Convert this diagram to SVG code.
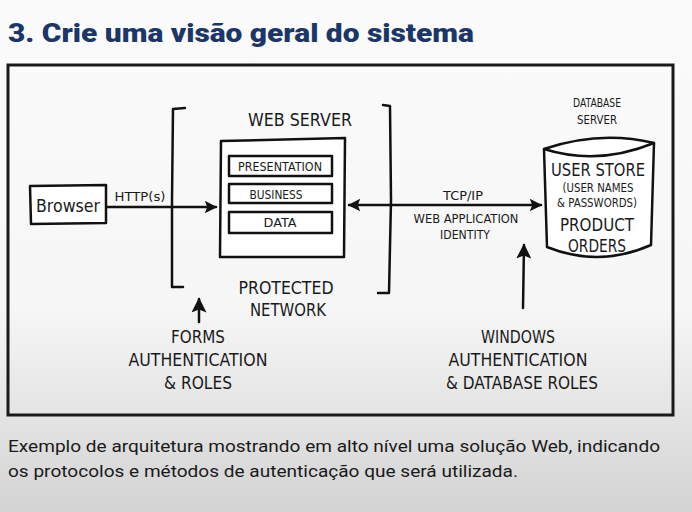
<svg xmlns="http://www.w3.org/2000/svg" width="692" height="512" viewBox="0 0 692 512">
<defs>
<linearGradient id="bg" x1="0" y1="0" x2="0" y2="1">
<stop offset="0" stop-color="#fbfbfb"/>
<stop offset="0.6" stop-color="#f6f6f6"/>
<stop offset="1" stop-color="#d3d3d3"/>
</linearGradient>
<marker id="ah" viewBox="0 0 10 10" refX="9" refY="5" markerWidth="5" markerHeight="5" orient="auto-start-reverse" markerUnits="strokeWidth">
<path d="M0,0 L10,5 L0,10 L2,5 Z" fill="#111"/>
</marker>
<marker id="ah2" viewBox="0 0 10 10" refX="9" refY="5" markerWidth="6" markerHeight="6" orient="auto-start-reverse" markerUnits="strokeWidth">
<path d="M0,0 L10,5 L0,10 L2,5 Z" fill="#111"/>
</marker>
</defs>
<style>
.ln{fill:none;stroke:#111;stroke-width:2.5;stroke-linecap:round;stroke-linejoin:round}
.bx{fill:#fff;stroke:#111;stroke-width:2.5;stroke-linejoin:round}
.hw{font-family:"DejaVu Sans",sans-serif;fill:#1a1a1a;text-anchor:middle}
.s12{font-size:12px}
.s16{font-size:16px}
.s17{font-size:17px}
</style>
<rect x="0" y="0" width="692" height="512" fill="url(#bg)"/>
<text x="8" y="42" font-family="Roboto, sans-serif" font-weight="900" font-size="26" fill="#1b3668" textLength="466" lengthAdjust="spacingAndGlyphs">3. Crie uma visão geral do sistema</text>
<rect x="8" y="65" width="665" height="350" fill="none" stroke="#1a1a1a" stroke-width="3"/>

<g id="connectors">
<path class="ln" d="M106,207 L216,207" marker-end="url(#ah)" stroke-width="3"/>
<path class="ln" d="M349,205 L541,205" marker-start="url(#ah)" marker-end="url(#ah)" stroke-width="3"/>
<path class="ln" d="M199,322 L199,299" marker-end="url(#ah2)" stroke-width="2"/>
<path class="ln" d="M523,308 L524,245" marker-end="url(#ah2)" stroke-width="2"/>
<text class="hw s12" x="140" y="201" textLength="51" lengthAdjust="spacingAndGlyphs">HTTP(s)</text>
<text class="hw s12" x="463" y="200" textLength="40" lengthAdjust="spacingAndGlyphs">TCP/IP</text>
<text class="hw s12" x="466" y="223" textLength="105" lengthAdjust="spacingAndGlyphs">WEB APPLICATION</text>
<text class="hw s12" x="465" y="239" textLength="50" lengthAdjust="spacingAndGlyphs">IDENTITY</text>
</g>

<g id="protected-network">
<path class="ln" d="M185,108 L173,109 L172,200 L172,287 L183,287"/>
<path class="ln" d="M383,105 L390,106 L391,200 L389,293 L378,293"/>
<text class="hw s17" x="286" y="294" textLength="95" lengthAdjust="spacingAndGlyphs">PROTECTED</text>
<text class="hw s17" x="288" y="316" textLength="76" lengthAdjust="spacingAndGlyphs">NETWORK</text>
</g>

<g id="browser">
<path class="bx" d="M30,186 L106,185 L106,223 L31,224 Z"/>
<text class="hw s17" x="68" y="212" textLength="64" lengthAdjust="spacingAndGlyphs">Browser</text>
</g>

<g id="web-server">
<text class="hw s17" x="300" y="126" textLength="104" lengthAdjust="spacingAndGlyphs">WEB SERVER</text>
<path class="bx" d="M221,141 L345,138 L344,257 L220,257 Z"/>
<rect class="bx" x="229" y="156" width="103" height="20"/>
<rect class="bx" x="229" y="184" width="103" height="19"/>
<rect class="bx" x="229" y="212" width="103" height="21"/>
<text class="hw s12" x="280" y="171" textLength="84" lengthAdjust="spacingAndGlyphs">PRESENTATION</text>
<text class="hw s12" x="276" y="199" textLength="53" lengthAdjust="spacingAndGlyphs">BUSINESS</text>
<text class="hw s12" x="280" y="227" textLength="33" lengthAdjust="spacingAndGlyphs">DATA</text>
</g>

<g id="database-server">
<text class="hw s12" x="597" y="107" textLength="48" lengthAdjust="spacingAndGlyphs">DATABASE</text>
<text class="hw s12" x="597" y="124" textLength="40" lengthAdjust="spacingAndGlyphs">SERVER</text>
<path class="bx" d="M544,149 L547,247 Q599,268 651,245 L654,143 Q600,130 544,149 Z"/>
<path class="ln" d="M544,149 Q598,166 654,143"/>
<text class="hw s17" x="598" y="176" textLength="94" lengthAdjust="spacingAndGlyphs">USER STORE</text>
<text class="hw s12" x="598" y="192" textLength="71" lengthAdjust="spacingAndGlyphs">(USER NAMES</text>
<text class="hw s12" x="597" y="207" textLength="80" lengthAdjust="spacingAndGlyphs">&amp; PASSWORDS)</text>
<text class="hw s17" x="597" y="231" textLength="74" lengthAdjust="spacingAndGlyphs">PRODUCT</text>
<text class="hw s17" x="597" y="252" textLength="58" lengthAdjust="spacingAndGlyphs">ORDERS</text>
</g>

<g id="forms-auth">
<text class="hw s17" x="198" y="343" textLength="54" lengthAdjust="spacingAndGlyphs">FORMS</text>
<text class="hw s17" x="198" y="366" textLength="139" lengthAdjust="spacingAndGlyphs">AUTHENTICATION</text>
<text class="hw s17" x="198" y="389" textLength="68" lengthAdjust="spacingAndGlyphs">&amp; ROLES</text>
</g>

<g id="windows-auth">
<text class="hw s17" x="518" y="343" textLength="74" lengthAdjust="spacingAndGlyphs">WINDOWS</text>
<text class="hw s17" x="518" y="366" textLength="139" lengthAdjust="spacingAndGlyphs">AUTHENTICATION</text>
<text class="hw s17" x="522" y="389" textLength="152" lengthAdjust="spacingAndGlyphs">&amp; DATABASE ROLES</text>
</g>

<text x="8" y="452" font-family="Roboto, sans-serif" font-size="17" fill="#1a1a1a" textLength="652" lengthAdjust="spacingAndGlyphs">Exemplo de arquitetura mostrando em alto nível uma solução Web, indicando</text>
<text x="8" y="477" font-family="Roboto, sans-serif" font-size="17" fill="#1a1a1a" textLength="510" lengthAdjust="spacingAndGlyphs">os protocolos e métodos de autenticação que será utilizada.</text>
</svg>
